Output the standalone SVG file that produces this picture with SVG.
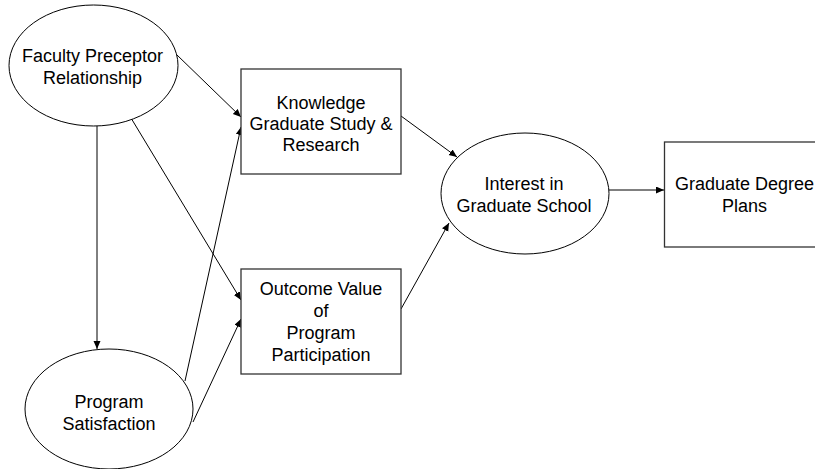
<svg xmlns="http://www.w3.org/2000/svg" width="815" height="469" viewBox="0 0 815 469">
<style>
.n{fill:#fff;stroke:#000;stroke-width:1}
.r{fill:#fff;stroke:#333;stroke-width:1.3}
.t{font-family:"Liberation Sans",Arial,sans-serif;font-size:18px;fill:#000;text-anchor:middle}
.c{stroke:#000;stroke-width:1;fill:none;marker-end:url(#a)}
</style>
<defs>
<marker id="a" markerUnits="userSpaceOnUse" markerWidth="9" markerHeight="8" refX="8" refY="3.5" orient="auto">
<path d="M0,0 L8,3.5 L0,7 z" fill="#000"/>
</marker>
</defs>
<g id="connectors">
<line class="c" x1="177" y1="55" x2="241" y2="117"/>
<line class="c" x1="185" y1="381" x2="241" y2="127"/>
<line class="c" x1="131" y1="118" x2="241" y2="300"/>
<line class="c" x1="193" y1="422" x2="241" y2="319"/>
<line class="c" x1="97" y1="126" x2="97" y2="349"/>
<line class="c" x1="401" y1="116" x2="457" y2="157"/>
<line class="c" x1="401" y1="309" x2="449" y2="223"/>
<line class="c" x1="609" y1="190" x2="664" y2="190"/>
</g>
<g id="faculty">
<ellipse class="n" cx="93.5" cy="65.5" rx="84.5" ry="60.5"/>
<text class="t" x="92.5" y="62">Faculty Preceptor</text>
<text class="t" x="92.5" y="84">Relationship</text>
</g>
<g id="satisfaction">
<ellipse class="n" cx="109" cy="409" rx="84" ry="60"/>
<text class="t" x="109" y="408">Program</text>
<text class="t" x="109" y="429.5">Satisfaction</text>
</g>
<g id="knowledge">
<rect class="r" x="241" y="69" width="160" height="105"/>
<text class="t" x="321" y="108.5">Knowledge</text>
<text class="t" x="321" y="129.5">Graduate Study &amp;</text>
<text class="t" x="321" y="150.5">Research</text>
</g>
<g id="outcome">
<rect class="r" x="241" y="269" width="160" height="105"/>
<text class="t" x="321" y="295">Outcome Value</text>
<text class="t" x="321" y="317">of</text>
<text class="t" x="321" y="339">Program</text>
<text class="t" x="321" y="361">Participation</text>
</g>
<g id="interest">
<ellipse class="n" cx="525" cy="193.5" rx="84" ry="60.5"/>
<text class="t" x="524" y="190">Interest in</text>
<text class="t" x="524" y="211.5">Graduate School</text>
</g>
<g id="degree">
<rect class="r" x="664.5" y="142" width="160" height="105"/>
<text class="t" x="744.5" y="190">Graduate Degree</text>
<text class="t" x="744.5" y="211.5">Plans</text>
</g>
</svg>
